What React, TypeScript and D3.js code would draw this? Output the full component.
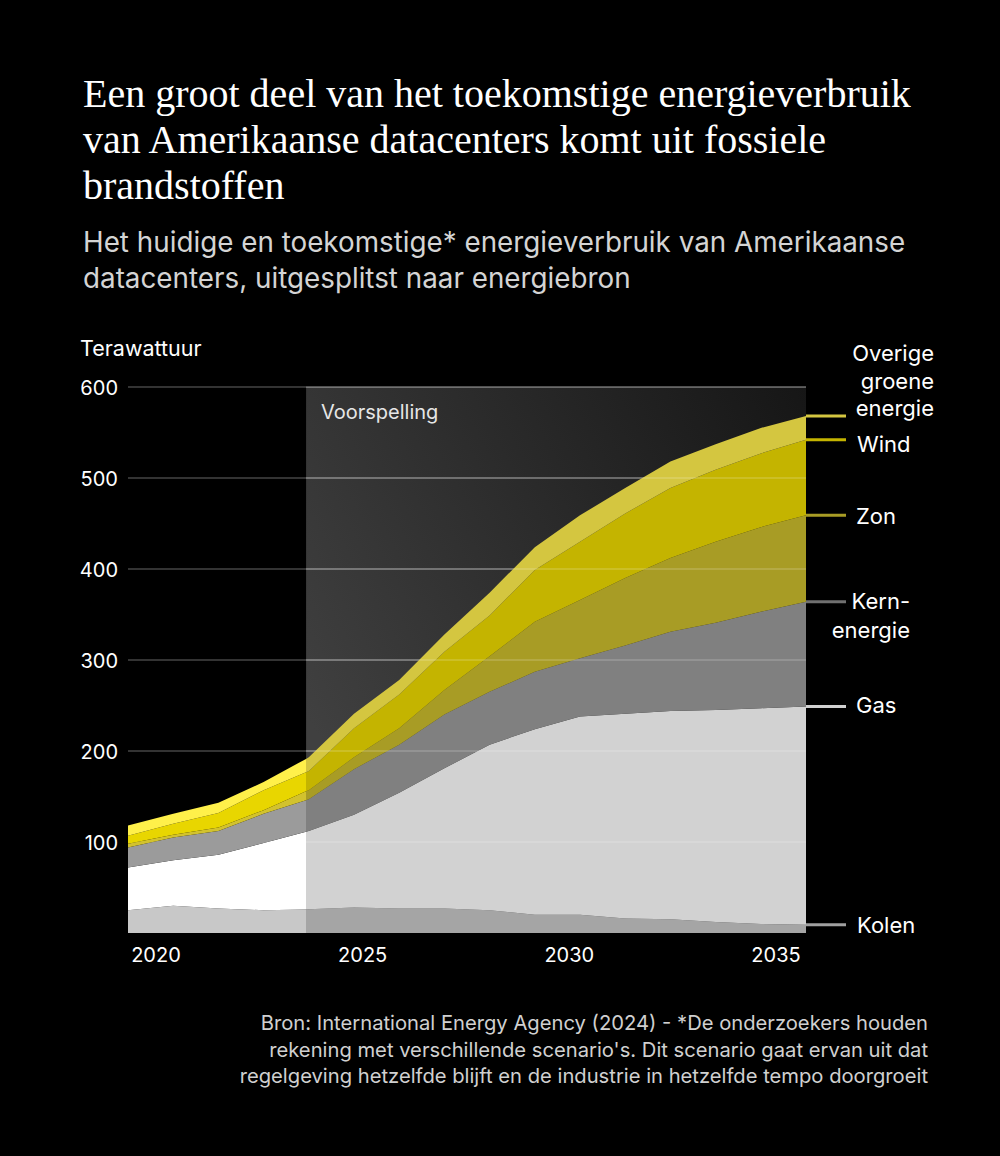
import React, { useEffect } from "react";
import * as d3 from "d3";

// ---------- DATA ----------
const years = [2020, 2021, 2022, 2023, 2024, 2025, 2026, 2027, 2028, 2029, 2030, 2031, 2032, 2033, 2034, 2035];
const kolen = [25, 30, 27, 25, 26, 28, 27, 27, 25, 20, 20, 16, 15, 12, 10, 9];
const gas = [47, 50, 59, 74, 86, 102, 127, 154, 182, 204, 218, 225, 229, 233, 237, 240];
const kern = [22, 25, 26, 32, 35, 50, 53, 59, 58, 63, 64, 75, 87, 96, 106, 115];
const zon = [4, 3, 4, 4, 10, 13, 18, 27, 39, 55, 64, 74, 81, 89, 93, 95];
const wind = [9, 12, 16, 22, 21, 32, 37, 42, 45, 57, 64, 71, 77, 79, 81, 83];
const overige = [11, 11, 11, 9, 15, 16, 16, 19, 25, 25, 29, 28, 29, 28, 28, 26];

const yTicks = [100, 200, 300, 400, 500, 600];
const xTicks = [2020, 2025, 2030, 2035];
const forecastStart = 2023.94;

const keys = ["kolen", "gas", "kern", "zon", "wind", "overige"];
const histColors = ["#c8c8c8", "#ffffff", "#9b9b9b", "#d2c22e", "#e8d600", "#fff04a"];
const foreColors = ["#a5a5a5", "#d2d2d2", "#808080", "#a89c25", "#c4b400", "#d4c640"];
const legendLineColors = ["#a0a0a0", "#d0d0d0", "#707070", "#a89c25", "#c4b400", "#d4c640"];

const title = [
  "Een groot deel van het toekomstige energieverbruik",
  "van Amerikaanse datacenters komt uit fossiele",
  "brandstoffen",
];
const subtitle = [
  "Het huidige en toekomstige* energieverbruik van Amerikaanse",
  "datacenters, uitgesplitst naar energiebron",
];
const footer = [
  "Bron: International Energy Agency (2024) - *De onderzoekers houden",
  "rekening met verschillende scenario's. Dit scenario gaat ervan uit dat",
  "regelgeving hetzelfde blijft en de industrie in hetzelfde tempo doorgroeit",
];
// legend text per layer: lines, anchor, x, baseline offsets (relative to layer top at end)
const legend = [
  { lines: ["Kolen"], anchor: "start", x: 857, dy: [8] },
  { lines: ["Gas"], anchor: "start", x: 856, dy: [7] },
  { lines: ["Kern-", "energie"], anchor: "end", x: 910, dy: [7, 36] },
  { lines: ["Zon"], anchor: "start", x: 856, dy: [9] },
  { lines: ["Wind"], anchor: "start", x: 857, dy: [12] },
  { lines: ["Overige", "groene", "energie"], anchor: "end", x: 934, dy: [-55, -27, 0] },
];

const W = 1000;
const H = 1156;
const SANS = "Inter, Lato, 'Open Sans', sans-serif";
const SERIF = "'Liberation Serif', 'DejaVu Serif', serif";

export default function App() {
  useEffect(() => {
    document.body.style.margin = "0";
    document.body.style.background = "#000";
  }, []);

  const x = d3.scaleLinear().domain([2020, 2035]).range([128, 806]);
  const xLabel = d3.scaleLinear().domain([2020, 2035]).range([156, 776]);
  const y = d3.scaleLinear().domain([0, 600]).range([933, 387]);

  const rows = years.map((yr, i) => ({
    year: yr,
    kolen: kolen[i],
    gas: gas[i],
    kern: kern[i],
    zon: zon[i],
    wind: wind[i],
    overige: overige[i],
  }));
  const stacked = d3.stack<any>().keys(keys)(rows);
  const area = d3
    .area<any>()
    .x((d) => x(d.data.year))
    .y0((d) => y(d[0]))
    .y1((d) => y(d[1]))
    .curve(d3.curveLinear);

  const xF = x(forecastStart);
  const xL = x(2020);
  const xR = x(2035);
  const yTop = y(600);
  const yBot = y(0);

  return (
    <div style={{ position: "absolute", left: 0, top: 0, width: W, height: H, background: "#000" }}>
      <svg width={W} height={H} viewBox={`0 0 ${W} ${H}`} style={{ display: "block" }}>
        <defs>
          <linearGradient id="fcBg" x1="0" y1="0.6" x2="1" y2="0">
            <stop offset="0" stopColor="#404040" />
            <stop offset="1" stopColor="#161616" />
          </linearGradient>
          <clipPath id="clipHist">
            <rect x={xL - 1} y={0} width={xF - xL + 1} height={H} />
          </clipPath>
          <clipPath id="clipFore">
            <rect x={xF} y={0} width={xR - xF + 1} height={H} />
          </clipPath>
        </defs>
        <rect x={0} y={0} width={W} height={H} fill="#000" />

        {/* Title */}
        {title.map((t, i) => (
          <text key={i} x={83} y={107 + i * 46} fill="#fff" fontFamily={SERIF} fontSize={40}>
            {t}
          </text>
        ))}
        {subtitle.map((t, i) => (
          <text key={i} x={83} y={252 + i * 36} fill="#d4d4d4" fontFamily={SANS} fontSize={27.8}>
            {t}
          </text>
        ))}

        {/* forecast background */}
        <rect x={xF} y={yTop} width={xR - xF} height={yBot - yTop} fill="url(#fcBg)" />

        {/* grid lines (under areas) */}
        {yTicks.map((t) => (
          <line key={t} x1={xL} x2={xR} y1={y(t)} y2={y(t)} stroke="#fff" strokeOpacity={0.4} strokeWidth={1} />
        ))}

        {/* historic areas */}
        <g clipPath="url(#clipHist)">
          {stacked.map((s, i) => (
            <path key={s.key} d={area(s) as string} fill={histColors[i]} />
          ))}
        </g>
        {/* forecast areas */}
        <g clipPath="url(#clipFore)">
          {stacked.map((s, i) => (
            <path key={s.key} d={area(s) as string} fill={foreColors[i]} />
          ))}
          {yTicks.map((t) => (
            <line key={t} x1={xL} x2={xR} y1={y(t)} y2={y(t)} stroke="#fff" strokeOpacity={0.3} strokeWidth={1} />
          ))}
        </g>

        {/* Axis labels */}
        <text x={80} y={356} fill="#fff" fontFamily={SANS} fontSize={21.5}>
          Terawattuur
        </text>
        {yTicks.map((t) => (
          <text key={t} x={118} y={y(t) + 8} fill="#fff" fontFamily={SANS} fontSize={20} textAnchor="end">
            {t}
          </text>
        ))}
        {xTicks.map((t) => (
          <text key={t} x={xLabel(t)} y={962} fill="#fff" fontFamily={SANS} fontSize={20} textAnchor="middle">
            {t}
          </text>
        ))}
        <text x={321} y={419} fill="#e6e6e6" fontFamily={SANS} fontSize={20}>
          Voorspelling
        </text>

        {/* Legend */}
        {stacked.map((s, i) => {
          const last = s[s.length - 1];
          const ly = y(last[1]);
          const lg = legend[i];
          return (
            <g key={s.key}>
              <line x1={xR} x2={846} y1={ly} y2={ly} stroke={legendLineColors[i]} strokeWidth={3} />
              {lg.lines.map((t, j) => (
                <text
                  key={j}
                  x={lg.x}
                  y={ly + lg.dy[j]}
                  fill="#fff"
                  fontFamily={SANS}
                  fontSize={22}
                  textAnchor={lg.anchor as any}
                >
                  {t}
                </text>
              ))}
            </g>
          );
        })}

        {/* Footer */}
        {footer.map((t, i) => (
          <text key={i} x={928} y={1030 + i * 26.5} fill="#d0d0d0" fontFamily={SANS} fontSize={20.2} textAnchor="end">
            {t}
          </text>
        ))}
      </svg>
    </div>
  );
}
